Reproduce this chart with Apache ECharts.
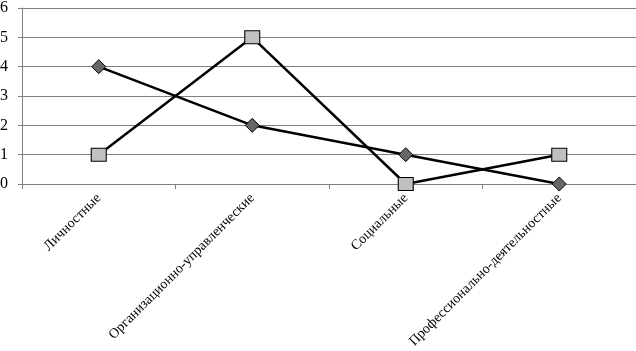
<!DOCTYPE html>
<html><head><meta charset="utf-8">
<script src="https://cdn.jsdelivr.net/npm/echarts@6/dist/echarts.min.js"></script>
<style>html,body{margin:0;padding:0;background:#fff}#c{width:636px;height:351px}</style>
</head><body><div id="c"></div>
<script>
const categories = ['Личностные','Организационно-управленческие','Социальные','Профессионально-деятельностные'];
const seriesDiamond = [4, 2, 1, 0];
const seriesSquare = [1, 5, 0, 1];
const yTicks = [0, 1, 2, 3, 4, 5, 6];

const chart = echarts.init(document.getElementById('c'), null, {renderer:'canvas'});
const font = 'Liberation Serif';
chart.setOption({
  animation:false,
  backgroundColor:'#fff',
  grid:{left:22, right:0, top:8, bottom:167, containLabel:false, outerBoundsMode:'none'},
  xAxis:{
    type:'category', data:categories, boundaryGap:true,
    axisLine:{lineStyle:{color:'#808080', width:1}},
    axisTick:{show:true, length:5, inside:false, lineStyle:{color:'#808080'}},
    axisLabel:{rotate:45, margin:12, fontFamily:font, fontSize:14, color:'#000', interval:0}
  },
  yAxis:{
    type:'value', min:yTicks[0], max:yTicks[yTicks.length-1], interval:1,
    axisLine:{show:true, lineStyle:{color:'#808080'}},
    axisTick:{show:true, length:4, lineStyle:{color:'#808080'}},
    splitLine:{show:true, lineStyle:{color:'#808080', width:1}},
    axisLabel:{margin:22, fontFamily:font, fontSize:16, color:'#000', align:'left',
      formatter:function(v){return String(v);}}
  },
  series:[
    {type:'line', data:seriesDiamond, symbol:'diamond', symbolSize:[14,14],
     lineStyle:{color:'#000', width:2.5}, itemStyle:{color:'#676767', borderColor:'#000', borderWidth:1}, z:3},
    {type:'line', data:seriesSquare, symbol:'rect', symbolSize:[15,13],
     lineStyle:{color:'#000', width:2.5}, itemStyle:{color:'#c0c0c0', borderColor:'#000', borderWidth:1}, z:4}
  ]
});
</script></body></html>
